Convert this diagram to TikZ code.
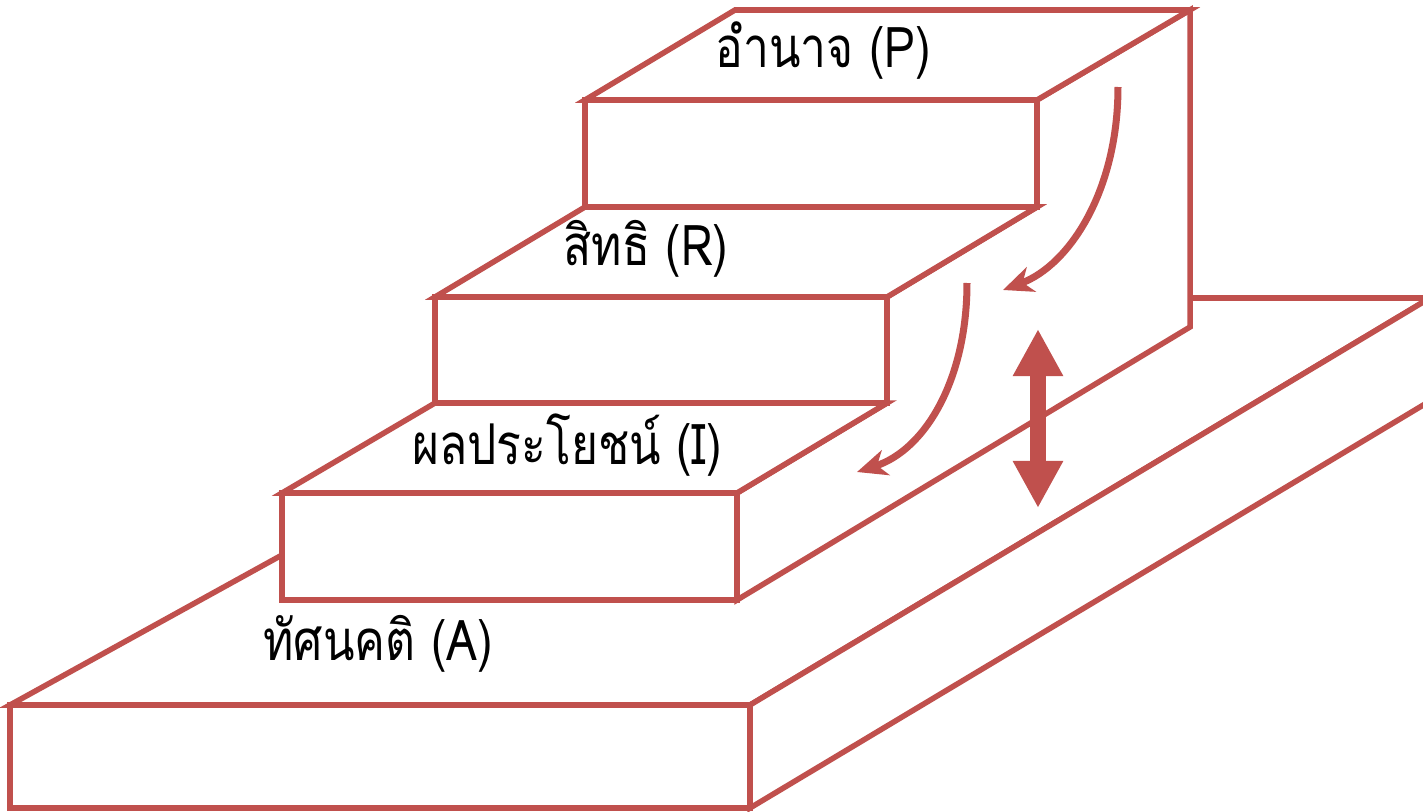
\documentclass[tikz,border=0pt]{standalone}
\usepackage{fontspec}
\newfontfamily\thaifont[Script=Thai]{Loma}
\usetikzlibrary{arrows.meta}
\definecolor{stepred}{HTML}{C0504D}
\newcommand{\steplabel}[1]{\scalebox{0.82}[1]{#1}}

\begin{document}
\begin{tikzpicture}[x=0.01cm,y=-0.01cm]
\tikzstyle{face}=[draw=stepred,fill=white,line width=0.055cm]
\tikzstyle{label}=[font=\thaifont\fontsize{16}{19}\selectfont,inner sep=0pt]
\tikzstyle{flow}=[draw=stepred,line width=0.07cm,-{Stealth[length=0.3cm,width=0.26cm,inset=0.09cm]}]
\tikzstyle{swap}=[draw=stepred,line width=0.16cm,{Triangle[length=0.47cm,width=0.47cm]}-{Triangle[length=0.47cm,width=0.47cm]}]
\useasboundingbox (0,0) rectangle (1423,812);
\clip (0,0) rectangle (1423,812);

% base slab
\coordinate (base fl) at (10,705);
\coordinate (base fr) at (750,705);
\coordinate (base bl) at (748,298);
\coordinate (base br) at (1430,298);
\draw[face] (base fl) -- (base bl) -- (base br) -- (base fr) -- cycle;
\draw[face] (base fr) -- (base br) -- (1430,401) -- (750,808) -- cycle;
\draw[face] (base fl) rectangle (750,808);

% side of the stairs
\draw[face] (1190,10) -- (1190,327) -- (737,600) -- (737,493) -- (887,403)
  -- (887,297) -- (1037,207) -- (1037,100) -- cycle;

% step I
\draw[face] (282,493) -- (435,403) -- (887,403) -- (737,493) -- cycle;
\draw[face] (282,493) rectangle (737,600);
% step R
\draw[face] (435,297) -- (585,207) -- (1037,207) -- (887,297) -- cycle;
\draw[face] (435,297) rectangle (887,403);
% step P
\draw[face] (585,100) -- (735,10) -- (1190,10) -- (1037,100) -- cycle;
\draw[face] (585,100) rectangle (1037,207);

% labels
\node[label] (power) at (823,51) {\steplabel{อำนาจ (P)}};
\node[label] (right) at (646,249) {\steplabel{สิทธิ (R)}};
\node[label] (interest) at (567,445) {\steplabel{ผลประโยชน์ (I)}};
\node[label] (attitude) at (378,644) {\steplabel{ทัศนคติ (A)}};

% arrows
\coordinate (p start) at (1118,87);
\coordinate (p end) at (1003,290);
\coordinate (r start) at (967,283);
\coordinate (r end) at (857,472);
\coordinate (up) at (1038,329);
\coordinate (down) at (1038,508);
\draw[flow] (p start) .. controls (1118,190) and (1070,265) .. (p end);
\draw[flow] (r start) .. controls (967,380) and (925,450) .. (r end);
\draw[swap] (up) -- (down);
\end{tikzpicture}
\end{document}
